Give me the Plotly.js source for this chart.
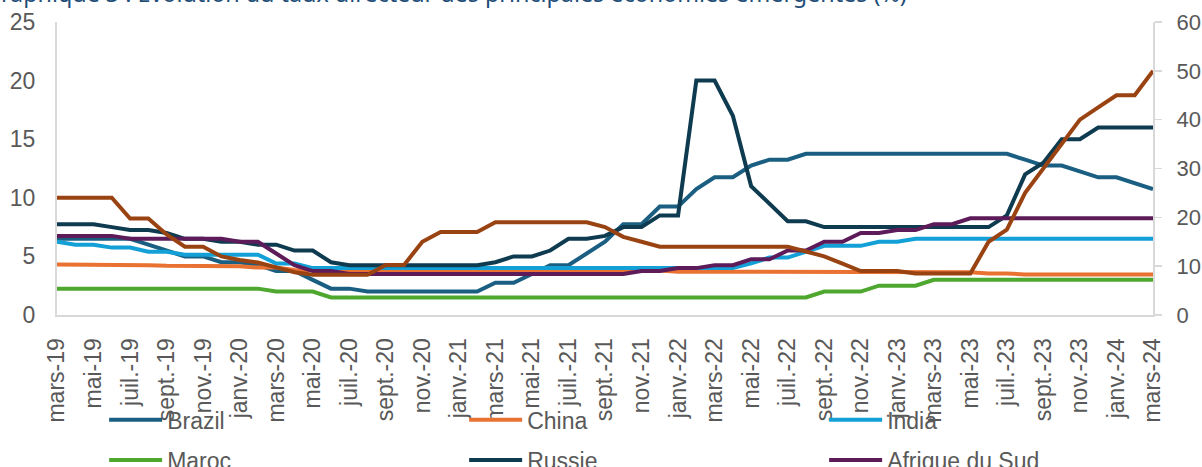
<!DOCTYPE html>
<html>
<head>
<meta charset="utf-8">
<script src="https://cdn.plot.ly/plotly-3.0.1.min.js"></script>
<style>
  html, body { margin: 0; padding: 0; background: #ffffff; }
  #chart { width: 1202px; height: 467px; }
</style>
</head>
<body>
<div id="chart"></div>
<script>
const months = [
  "mars-19","avr.-19","mai-19","juin-19","juil.-19","août-19","sept.-19","oct.-19","nov.-19","déc.-19",
  "janv.-20","févr.-20","mars-20","avr.-20","mai-20","juin-20","juil.-20","août-20","sept.-20","oct.-20","nov.-20","déc.-20",
  "janv.-21","févr.-21","mars-21","avr.-21","mai-21","juin-21","juil.-21","août-21","sept.-21","oct.-21","nov.-21","déc.-21",
  "janv.-22","févr.-22","mars-22","avr.-22","mai-22","juin-22","juil.-22","août-22","sept.-22","oct.-22","nov.-22","déc.-22",
  "janv.-23","févr.-23","mars-23","avr.-23","mai-23","juin-23","juil.-23","août-23","sept.-23","oct.-23","nov.-23","déc.-23",
  "janv.-24","févr.-24","mars-24"
];
const tickLabels = [
  "mars-19","mai-19","juil.-19","sept.-19","nov.-19","janv.-20","mars-20","mai-20","juil.-20","sept.-20","nov.-20",
  "janv.-21","mars-21","mai-21","juil.-21","sept.-21","nov.-21","janv.-22","mars-22","mai-22","juil.-22","sept.-22",
  "nov.-22","janv.-23","mars-23","mai-23","juil.-23","sept.-23","nov.-23","janv.-24","mars-24"
];

const brazil = [6.5,6.5,6.5,6.5,6.5,6.0,5.5,5.0,5.0,4.5,
  4.5,4.25,3.75,3.75,3.0,2.25,2.25,2.0,2.0,2.0,2.0,2.0,
  2.0,2.0,2.75,2.75,3.5,4.25,4.25,5.25,6.25,7.75,7.75,9.25,
  9.25,10.75,11.75,11.75,12.75,13.25,13.25,13.75,13.75,13.75,13.75,13.75,
  13.75,13.75,13.75,13.75,13.75,13.75,13.75,13.25,12.75,12.75,12.25,11.75,
  11.75,11.25,10.75];
const china = [4.31,4.31,4.31,4.31,4.31,4.25,4.20,4.20,4.15,4.15,
  4.15,4.05,4.05,3.85,3.85,3.85,3.85,3.85,3.85,3.85,3.85,3.85,
  3.85,3.85,3.85,3.85,3.85,3.85,3.85,3.85,3.85,3.85,3.85,3.80,
  3.70,3.70,3.70,3.70,3.70,3.70,3.70,3.65,3.65,3.65,3.65,3.65,
  3.65,3.65,3.65,3.65,3.65,3.55,3.55,3.45,3.45,3.45,3.45,3.45,
  3.45,3.45,3.45];
const india = [6.25,6.0,6.0,5.75,5.75,5.4,5.4,5.15,5.15,5.15,
  5.15,5.15,4.4,4.4,4.0,4.0,4.0,4.0,4.0,4.0,4.0,4.0,
  4.0,4.0,4.0,4.0,4.0,4.0,4.0,4.0,4.0,4.0,4.0,4.0,
  4.0,4.0,4.0,4.0,4.4,4.9,4.9,5.4,5.9,5.9,5.9,6.25,
  6.25,6.5,6.5,6.5,6.5,6.5,6.5,6.5,6.5,6.5,6.5,6.5,
  6.5,6.5,6.5];
const maroc = [2.25,2.25,2.25,2.25,2.25,2.25,2.25,2.25,2.25,2.25,
  2.25,2.25,2.0,2.0,2.0,1.5,1.5,1.5,1.5,1.5,1.5,1.5,
  1.5,1.5,1.5,1.5,1.5,1.5,1.5,1.5,1.5,1.5,1.5,1.5,
  1.5,1.5,1.5,1.5,1.5,1.5,1.5,1.5,2.0,2.0,2.0,2.5,
  2.5,2.5,3.0,3.0,3.0,3.0,3.0,3.0,3.0,3.0,3.0,3.0,
  3.0,3.0,3.0];
const russie = [7.75,7.75,7.75,7.5,7.25,7.25,7.0,6.5,6.5,6.25,
  6.25,6.0,6.0,5.5,5.5,4.5,4.25,4.25,4.25,4.25,4.25,4.25,
  4.25,4.25,4.5,5.0,5.0,5.5,6.5,6.5,6.75,7.5,7.5,8.5,
  8.5,20,20,17,11,9.5,8.0,8.0,7.5,7.5,7.5,7.5,
  7.5,7.5,7.5,7.5,7.5,7.5,8.5,12,13,15,15,16,
  16,16,16];
const afriqueDuSud = [6.75,6.75,6.75,6.75,6.5,6.5,6.5,6.5,6.5,6.5,
  6.25,6.25,5.25,4.25,3.75,3.75,3.5,3.5,3.5,3.5,3.5,3.5,
  3.5,3.5,3.5,3.5,3.5,3.5,3.5,3.5,3.5,3.5,3.75,3.75,
  4.0,4.0,4.25,4.25,4.75,4.75,5.5,5.5,6.25,6.25,7.0,7.0,
  7.25,7.25,7.75,7.75,8.25,8.25,8.25,8.25,8.25,8.25,8.25,8.25,
  8.25,8.25,8.25];
const turquie = [24,24,24,24,19.75,19.75,16.5,14,14,12,
  11.25,10.75,9.75,8.75,8.25,8.25,8.25,8.25,10.25,10.25,15,17,
  17,17,19,19,19,19,19,19,18,16,15,14,
  14,14,14,14,14,14,14,13,12,10.5,9,9,
  9,8.5,8.5,8.5,8.5,15,17.5,25,30,35,40,42.5,
  45,45,50];

const FONT = "Liberation Sans, Arial, sans-serif";
const GREY = "#595959";
const AXIS = "#d9d9d9";

function line(name, y, color, opts) {
  return Object.assign({
    type: "scatter", mode: "lines", name: name, x: months, y: y,
    line: { color: color, width: 4, shape: "linear" },
    hoverinfo: "skip"
  }, opts || {});
}

const data = [
  line("Brazil", brazil, "#1A5F82", { legend: "legend" }),
  line("China", china, "#E97132", { legend: "legend" }),
  line("India", india, "#12A0D7", { legend: "legend" }),
  line("Maroc", maroc, "#4EA72E", { legend: "legend2" }),
  line("Russie", russie, "#0E3B50", { legend: "legend2" }),
  line("Afrique du Sud", afriqueDuSud, "#5E1B5A", { legend: "legend2" }),
  line("Turquie", turquie, "#9A4312", { yaxis: "y2", showlegend: false })
];

const legendCommon = {
  orientation: "h",
  xanchor: "left",
  yanchor: "middle",
  x: 0.043,
  itemwidth: 53,
  entrywidth: 292,
  entrywidthmode: "pixels",
  font: { family: FONT, size: 23, color: GREY },
  bgcolor: "rgba(0,0,0,0)",
  traceorder: "normal"
};

const layout = {
  width: 1202,
  height: 467,
  margin: { l: 57, r: 49, t: 22, b: 152, pad: 0, autoexpand: false },
  paper_bgcolor: "#ffffff",
  plot_bgcolor: "#ffffff",
  font: { family: FONT, size: 23, color: GREY },
  showlegend: true,
  legend: Object.assign({}, legendCommon, { y: -0.358 }),
  legend2: Object.assign({}, legendCommon, { y: -0.495 }),
  xaxis: {
    type: "category",
    categoryorder: "array",
    categoryarray: months,
    tickmode: "array",
    tickvals: tickLabels,
    ticktext: tickLabels,
    tickangle: -90,
    tickfont: { family: FONT, size: 23, color: GREY },
    ticks: "",
    automargin: false,
    ticklabelstandoff: 12,
    showgrid: false,
    zeroline: false,
    showline: true,
    linecolor: AXIS,
    linewidth: 2
  },
  yaxis: {
    range: [0, 25],
    dtick: 5,
    tick0: 0,
    showgrid: false,
    zeroline: false,
    showline: true,
    linecolor: AXIS,
    linewidth: 2,
    ticks: "",
    automargin: false,
    ticklabelstandoff: 15,
    tickfont: { family: FONT, size: 23, color: GREY }
  },
  yaxis2: {
    overlaying: "y",
    side: "right",
    range: [0, 60],
    dtick: 10,
    tick0: 0,
    showgrid: false,
    zeroline: false,
    showline: true,
    linecolor: AXIS,
    linewidth: 2,
    ticks: "outside",
    ticklen: 7,
    tickwidth: 1.5,
    tickcolor: AXIS,
    automargin: false,
    ticklabelstandoff: 10,
    tickfont: { family: FONT, size: 22, color: GREY }
  },
  annotations: [{
    text: "Graphique 3 : Évolution du taux directeur des principales économies émergentes (%)",
    xref: "paper", yref: "paper",
    x: -0.0684, y: 1.036,
    xanchor: "left", yanchor: "bottom",
    showarrow: false,
    font: { family: "Noto Sans, Open Sans, sans-serif", size: 23.3, color: "#1F4E79" }
  }]
};

Plotly.newPlot("chart", data, layout, { displayModeBar: false, staticPlot: true });
</script>
</body>
</html>
